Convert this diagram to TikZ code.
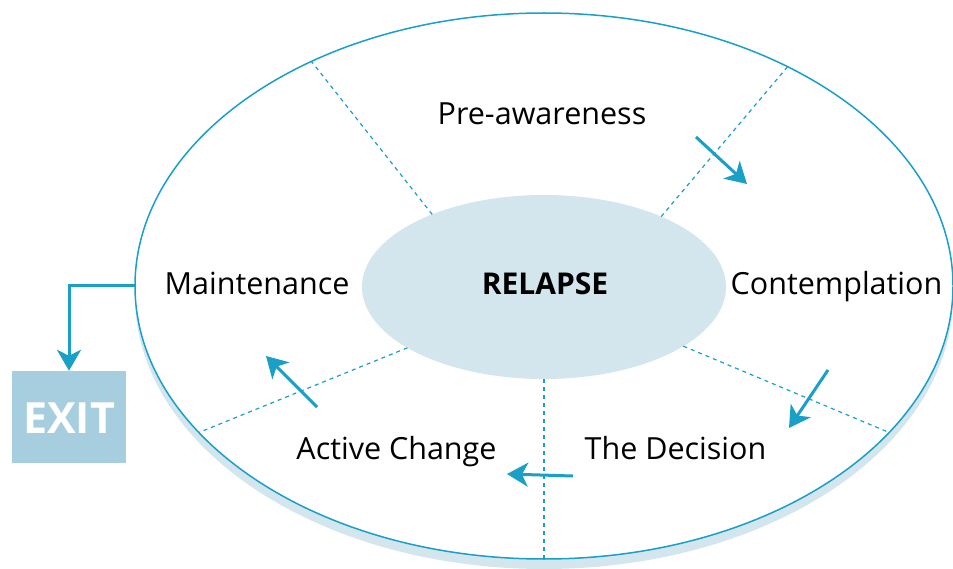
\documentclass[tikz,border=0pt]{standalone}
\usepackage{fontspec}
\setmainfont{Open Sans}
\usetikzlibrary{arrows.meta,shapes.geometric}
\definecolor{lineblue}{RGB}{26,159,199}
\definecolor{palefill}{RGB}{211,230,238}
\definecolor{exitfill}{RGB}{166,206,223}
\begin{document}
\begin{tikzpicture}[x=1pt,y=-1pt,
  ring/.style={ellipse, draw=lineblue, line width=1.5pt, fill=white, inner sep=0pt, outer sep=0pt},
  core/.style={ellipse, fill=palefill, inner sep=0pt, outer sep=0pt},
  stage/.style={font=\fontsize{30.5}{34}\selectfont, inner sep=0pt, anchor=base},
  divider/.style={draw=lineblue, line width=1.2pt, dash pattern=on 4pt off 4pt},
  flow/.style={draw=lineblue, line width=3pt, -{Stealth[length=21pt,width=24pt,inset=6pt]}},
  exitbox/.style={fill=exitfill, minimum width=114pt, minimum height=92pt, inner sep=0pt},
  exittext/.style={text=white, font=\bfseries\fontsize{43}{48}\selectfont, inner sep=0pt, anchor=base}
]
\useasboundingbox (0,0) rectangle (953,569);
% shadow
\fill[palefill] (544,296) ellipse [x radius=409pt, y radius=273pt];
% outer ring
\node[ring, minimum width=818pt, minimum height=546pt] (outer) at (544,286) {};
% inner ellipse
\node[core, minimum width=364pt, minimum height=184pt] (relapse) at (544,287) {};
\node[stage, font=\bfseries\fontsize{30}{34}\selectfont] (relapsetext) at (545,295) {RELAPSE};
% dividers
\draw[divider] (relapse.147.1) -- (outer.136.75);
\draw[divider] (relapse.31.7) -- (outer.42.6);
\draw[divider] (relapse.-23.5) -- (outer.-23.0);
\draw[divider] (relapse.-90) -- (outer.-90);
\draw[divider] (relapse.204.3) -- (outer.203.6);
% stage labels
\node[stage] (pre) at (542,125) {Pre-awareness};
\node[stage] (contemp) at (836.5,295) {Contemplation};
\node[stage] (decision) at (675.5,459) {The Decision};
\node[stage] (active) at (396.5,459) {Active Change};
\node[stage] (maint) at (257,295) {Maintenance};
% exit
\node[exitbox] (exit) at (69,417) {};
\node[exittext] (exitlabel) at (69,433) {EXIT};
% flow arrows
\coordinate (a1s) at (696,137); \coordinate (a1e) at (747,184);
\coordinate (a2s) at (828,370); \coordinate (a2e) at (789,428);
\coordinate (a3s) at (573,476); \coordinate (a3e) at (507,474);
\coordinate (a4s) at (317,407); \coordinate (a4e) at (266,356);
\draw[flow] (a1s) -- (a1e);
\draw[flow] (a2s) -- (a2e);
\draw[flow] (a3s) -- (a3e);
\draw[flow] (a4s) -- (a4e);
\draw[flow] (outer.west) -| (exit.north);
\end{tikzpicture}
\end{document}
